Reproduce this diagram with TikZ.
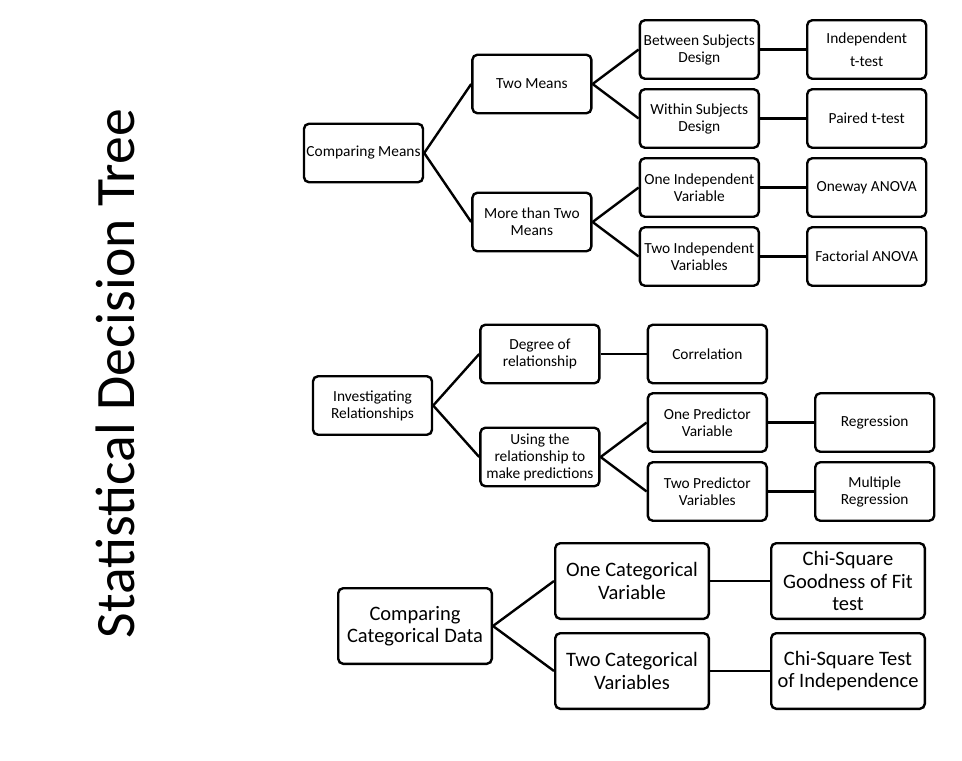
\documentclass[tikz,border=0pt]{standalone}
\usepackage{fontspec}
\setmainfont{Carlito}
\usetikzlibrary{positioning}
\tikzset{
    box/.style={rectangle, draw, line width=2.4pt, rounded corners=5pt, align=center, minimum width=119pt, minimum height=58.5pt, inner sep=2pt, font=\fontsize{15.4}{17}\selectfont},
    bigbox/.style={box, minimum width=153.6pt, minimum height=75.6pt, font=\fontsize{20.5}{22.5}\selectfont},
    link/.style={line width=2.4pt}
}

\begin{document}
\begin{tikzpicture}[x=1pt, y=-1pt]
        \useasboundingbox (0,0) rectangle (962,761);
        \node (title) [rotate=90, anchor=base, font=\fontsize{55.6}{60}\selectfont] at (134,373.5) {Statistical Decision Tree};

        % Comparing Means
        \node (cmeans) [box] at (363.5,153) {Comparing Means};
        \node (twomeans) [box, right=47pt of cmeans, yshift=69pt] {Two Means};
        \node (moremeans) [box, right=47pt of cmeans, yshift=-69pt] {More than Two\\Means};
        \node (between) [box, right=46pt of twomeans, yshift=34.5pt] {Between Subjects\\Design};
        \node (within) [box, right=46pt of twomeans, yshift=-34.5pt] {Within Subjects\\Design};
        \node (oneiv) [box, right=46pt of moremeans, yshift=34.5pt] {One Independent\\Variable};
        \node (twoiv) [box, right=46pt of moremeans, yshift=-34.5pt] {Two Independent\\Variables};
        \node (indt) [box, right=46pt of between] {Independent\\[6pt]t-test};
        \node (paired) [box, right=46pt of within] {Paired t-test};
        \node (oneway) [box, right=46pt of oneiv] {Oneway ANOVA};
        \node (factorial) [box, right=46pt of twoiv] {Factorial ANOVA};

        \draw [link] (cmeans.east) -- (twomeans.west);
        \draw [link] (cmeans.east) -- (moremeans.west);
        \draw [link] (twomeans.east) -- (between.west);
        \draw [link] (twomeans.east) -- (within.west);
        \draw [link] (moremeans.east) -- (oneiv.west);
        \draw [link] (moremeans.east) -- (twoiv.west);
        \draw [link] (between) -- (indt);
        \draw [link] (within) -- (paired);
        \draw [link] (oneiv) -- (oneway);
        \draw [link] (twoiv) -- (factorial);

        % Investigating Relationships
        \node (inv) [box] at (372.5,405.5) {Investigating\\Relationships};
        \node (degree) [box, right=46pt of inv, yshift=51.5pt] {Degree of\\relationship};
        \node (using) [box, right=46pt of inv, yshift=-51.5pt] {Using the\\relationship to\\make predictions};
        \node (correl) [box, right=46pt of degree] {Correlation};
        \node (onepred) [box, right=46pt of using, yshift=34.5pt] {One Predictor\\Variable};
        \node (twopred) [box, right=46pt of using, yshift=-34.5pt] {Two Predictor\\Variables};
        \node (regr) [box, right=46pt of onepred] {Regression};
        \node (multreg) [box, right=46pt of twopred] {Multiple\\Regression};

        \draw [link] (inv.east) -- (degree.west);
        \draw [link] (inv.east) -- (using.west);
        \draw [link] (degree) -- (correl);
        \draw [link] (using.east) -- (onepred.west);
        \draw [link] (using.east) -- (twopred.west);
        \draw [link] (onepred) -- (regr);
        \draw [link] (twopred) -- (multreg);

        % Comparing Categorical Data
        \node (catdata) [bigbox] at (415,626) {Comparing\\Categorical Data};
        \node (onecat) [bigbox, right=61pt of catdata, yshift=45pt] {One Categorical\\Variable};
        \node (twocat) [bigbox, right=61pt of catdata, yshift=-45pt] {Two Categorical\\Variables};
        \node (chigof) [bigbox, right=60pt of onecat] {Chi-Square\\Goodness of Fit\\test};
        \node (chiind) [bigbox, right=60pt of twocat] {Chi-Square Test\\of Independence};

        \draw [link] (catdata.east) -- (onecat.west);
        \draw [link] (catdata.east) -- (twocat.west);
        \draw [link] (onecat) -- (chigof);
        \draw [link] (twocat) -- (chiind);
\end{tikzpicture}
\end{document}
